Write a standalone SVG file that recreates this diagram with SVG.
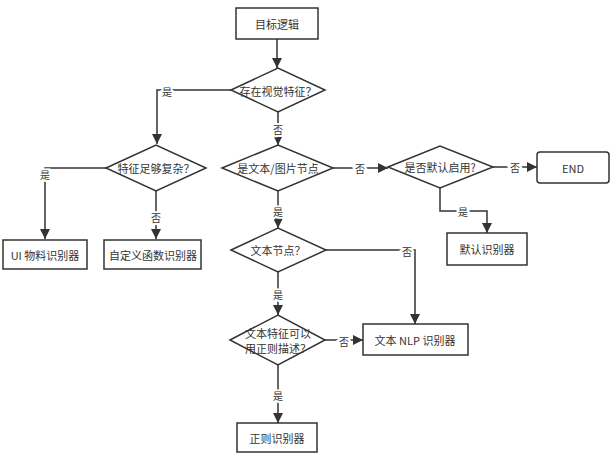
<svg xmlns="http://www.w3.org/2000/svg" width="616" height="464" viewBox="0 0 616 464">
<defs>
<marker id="ah" viewBox="0 0 10 10" refX="10" refY="5" markerWidth="10" markerHeight="10" markerUnits="userSpaceOnUse" orient="auto">
<path d="M0,0 L10,5 L0,10 z" fill="#333"/>
</marker>
<style>
.box{fill:#fff;stroke:#333;stroke-width:1.5}
.dia{fill:#fff;stroke:#333;stroke-width:1.5}
.t{font-family:"Noto Sans CJK SC","Liberation Sans",sans-serif;font-size:11px;fill:#333;text-anchor:middle;dominant-baseline:central}
.c{fill:none;stroke:#333;stroke-width:1.5}
.lb{font-family:"Noto Sans CJK SC","Liberation Sans",sans-serif;font-size:10px;fill:#333;text-anchor:middle;dominant-baseline:central;stroke:#fff;stroke-width:4;paint-order:stroke}
</style>
</defs>
<rect width="616" height="464" fill="#fff"/>
<g id="connectors">
<path class="c" d="M277,39 V68" marker-end="url(#ah)"/>
<path class="c" d="M231,90 H157 V144" marker-end="url(#ah)"/>
<path class="c" d="M278,112 V145" marker-end="url(#ah)"/>
<path class="c" d="M106,168 H45 V239" marker-end="url(#ah)"/>
<path class="c" d="M156,191 V239" marker-end="url(#ah)"/>
<path class="c" d="M333,168 H388" marker-end="url(#ah)"/>
<path class="c" d="M493,167 H537" marker-end="url(#ah)"/>
<path class="c" d="M440,188 V211 H487 V233" marker-end="url(#ah)"/>
<path class="c" d="M278,191 V228" marker-end="url(#ah)"/>
<path class="c" d="M326,250 H415 V324" marker-end="url(#ah)"/>
<path class="c" d="M278,272 V315" marker-end="url(#ah)"/>
<path class="c" d="M325,340 H363" marker-end="url(#ah)"/>
<path class="c" d="M278,365 V423" marker-end="url(#ah)"/>
<text class="lb" x="167" y="91">是</text>
<text class="lb" x="278" y="129">否</text>
<text class="lb" x="45" y="174">是</text>
<text class="lb" x="156" y="217">否</text>
<text class="lb" x="360" y="168">否</text>
<text class="lb" x="515" y="167">否</text>
<text class="lb" x="463" y="211">是</text>
<text class="lb" x="278" y="211">是</text>
<text class="lb" x="407" y="251">否</text>
<text class="lb" x="278" y="294">是</text>
<text class="lb" x="344" y="341">否</text>
<text class="lb" x="278" y="395">是</text>
</g>
<g id="n-start"><rect class="box" x="236" y="8" width="82" height="31"/><text class="t" x="277" y="24">目标逻辑</text></g>
<g id="n-visual"><polygon class="dia" points="231,90 278,68 325,90 278,112"/><text class="t" x="278" y="91">存在视觉特征？</text></g>
<g id="n-complex"><polygon class="dia" points="106,168 156,145 206,168 156,191"/><text class="t" x="156" y="168">特征足够复杂？</text></g>
<g id="n-ui"><rect class="box" x="3" y="240" width="84" height="29"/><text class="t" x="45" y="255">UI 物料识别器</text></g>
<g id="n-custom"><rect class="box" x="104" y="240" width="97" height="29"/><text class="t" x="153" y="255">自定义函数识别器</text></g>
<g id="n-textimg"><polygon class="dia" points="222,168 278,145 333,168 278,191"/><text class="t" x="278" y="168">是文本/图片节点</text></g>
<g id="n-default"><polygon class="dia" points="388,167 440,146 493,167 440,188"/><text class="t" x="440" y="167">是否默认启用?</text></g>
<g id="n-end"><rect class="box" x="537" y="152" width="72" height="31" rx="3"/><text class="t" x="573" y="168">END</text></g>
<g id="n-defrec"><rect class="box" x="447" y="233" width="80" height="32"/><text class="t" x="487" y="249">默认识别器</text></g>
<g id="n-textnode"><polygon class="dia" points="231,250 278,228 326,250 278,272"/><text class="t" x="278" y="250">文本节点？</text></g>
<g id="n-nlp"><rect class="box" x="363" y="324" width="105" height="31"/><text class="t" x="415" y="340">文本 NLP 识别器</text></g>
<g id="n-regex-q"><polygon class="dia" points="230,340 278,315 325,340 278,365"/><text class="t" x="278" y="333">文本特征可以</text><text class="t" x="278" y="348">用正则描述？</text></g>
<g id="n-regex"><rect class="box" x="237" y="423" width="80" height="29"/><text class="t" x="277" y="438">正则识别器</text></g>
</svg>
